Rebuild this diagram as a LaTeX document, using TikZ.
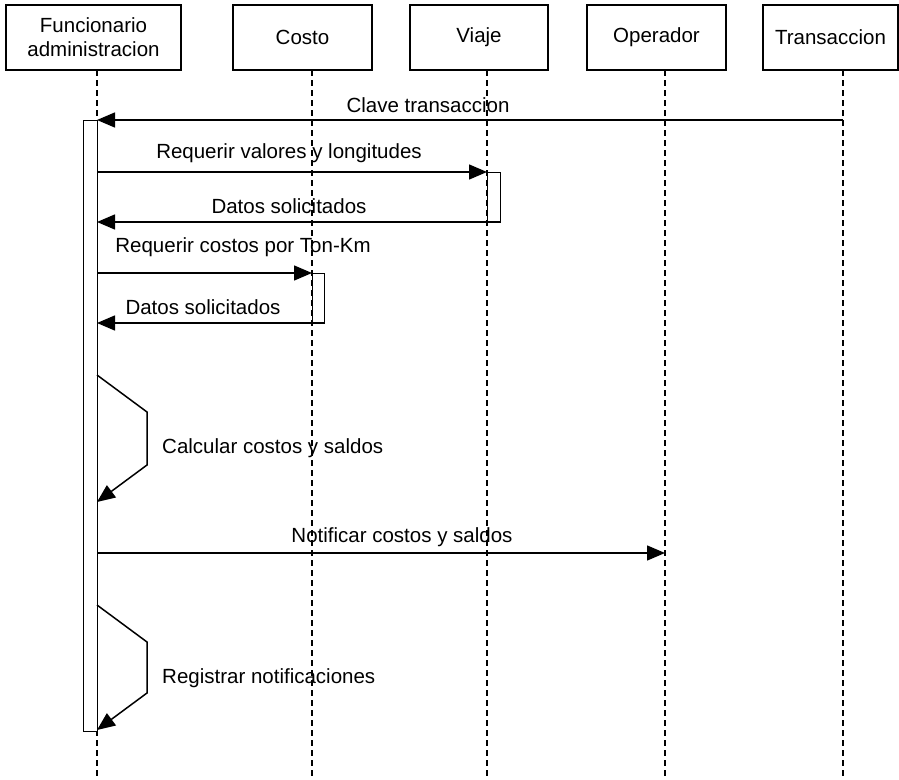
\documentclass[tikz,border=0pt]{standalone}
\usepackage{fontspec}
\setmainfont{Liberation Sans}
\usetikzlibrary{arrows.meta}
\begin{document}
\begin{tikzpicture}[x=1pt,y=-1pt,
  every node/.style={font=\fontsize{20.5}{24}\selectfont, inner sep=0pt},
  objbox/.style={draw, line width=1.5pt, minimum height=65pt, align=center},
  lifeline/.style={line width=1.3pt, dash pattern=on 6pt off 4pt},
  activation/.style={draw, line width=1.3pt, fill=white},
  msg/.style={line width=1.4pt, -{Triangle[length=18pt,width=15pt]}},
  selfmsg/.style={line width=1.5pt, -{Triangle[length=18pt,width=15pt]}},
  lbl/.style={anchor=base}]
\useasboundingbox (0,0) rectangle (899,779);

% participants
\node[objbox, minimum width=175pt] (fa) at (93.5,37.5) {Funcionario\\administracion};
\node[objbox, minimum width=139pt] (co) at (302.5,37.5) {Costo};
\node[objbox, minimum width=138pt] (vi) at (479,37.5) {Viaje};
\node[objbox, minimum width=139pt] (op) at (656.5,37.5) {Operador};
\node[objbox, minimum width=135pt] (tr) at (830.5,37.5) {Transaccion};

% lifeline ends
\coordinate (faE) at (97,779);
\coordinate (coE) at (312,779);
\coordinate (viE) at (487,779);
\coordinate (opE) at (665,779);
\coordinate (trE) at (843,779);

\draw[lifeline] (97,70) -- (faE);
\draw[lifeline] (312,70) -- (coE);
\draw[lifeline] (487,70) -- (viE);
\draw[lifeline] (665,70) -- (opE);
\draw[lifeline] (843,70) -- (trE);

% activation bars
\node[activation, minimum width=14pt, minimum height=611pt, anchor=north west] (actFa) at (83,120) {};
\node[activation, minimum width=13pt, minimum height=50pt, anchor=north west] (actVi) at (487,172) {};
\node[activation, minimum width=12pt, minimum height=50pt, anchor=north west] (actCo) at (312,273) {};

% message end points
\coordinate (m1s) at (843,120);  \coordinate (m1e) at (97,120);
\coordinate (m2s) at (97,172);   \coordinate (m2e) at (487,172);
\coordinate (m3s) at (500,222);  \coordinate (m3e) at (97,222);
\coordinate (m4s) at (97,273);   \coordinate (m4e) at (312,273);
\coordinate (m5s) at (324,323);  \coordinate (m5e) at (97,323);
\coordinate (m6s) at (97,553);   \coordinate (m6e) at (665,553);

\draw[msg] (m1s) -- (m1e);
\draw[msg] (m2s) -- (m2e);
\draw[msg] (m3s) -- (m3e);
\draw[msg] (m4s) -- (m4e);
\draw[msg] (m5s) -- (m5e);
\draw[msg] (m6s) -- (m6e);

% self messages
\coordinate (s1a) at (97,375);  \coordinate (s1b) at (147,412);
\coordinate (s1c) at (147,465); \coordinate (s1d) at (97,502);
\draw[selfmsg, line join=miter] (s1a) -- (s1b) -- (s1c) -- (s1d);
\coordinate (s2a) at (97,605);  \coordinate (s2b) at (147,642);
\coordinate (s2c) at (147,693); \coordinate (s2d) at (97,730);
\draw[selfmsg, line join=miter] (s2a) -- (s2b) -- (s2c) -- (s2d);

% labels
\node[lbl] (l1) at (428,112) {Clave transaccion};
\node[lbl] (l2) at (289,158) {Requerir valores y longitudes};
\node[lbl] (l3) at (289,213) {Datos solicitados};
\node[lbl] (l4) at (243,252) {Requerir costos por Ton-Km};
\node[lbl] (l5) at (203,314) {Datos solicitados};
\node[lbl, anchor=base west] (l6) at (162,453) {Calcular costos y saldos};
\node[lbl] (l7) at (402,542) {Notificar costos y saldos};
\node[lbl, anchor=base west] (l8) at (162,683) {Registrar notificaciones};
\end{tikzpicture}
\end{document}
